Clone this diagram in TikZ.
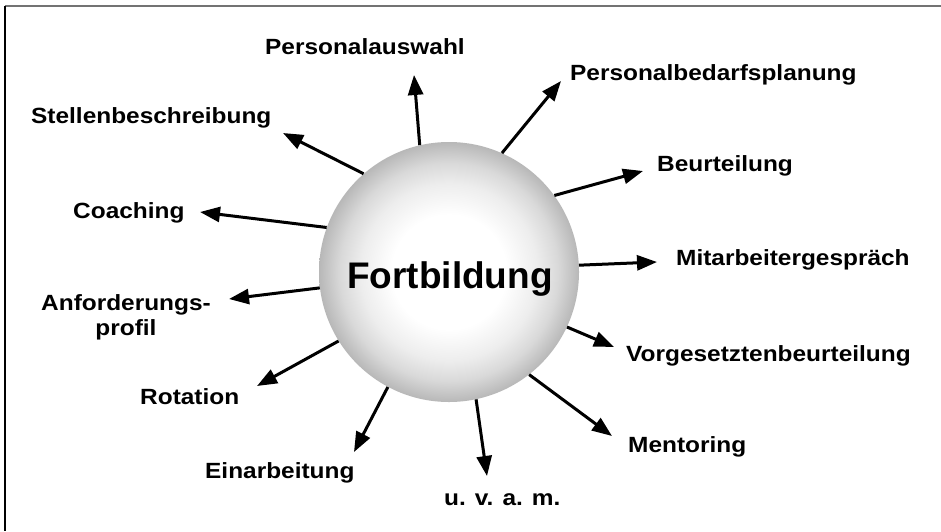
\documentclass[tikz,border=0pt]{standalone}
\usepackage{fontspec}
\setmainfont{Liberation Sans}
\newfontfamily\lblfont{Liberation Sans}[FakeStretch=1.11]
\usetikzlibrary{arrows.meta}

\pgfdeclareradialshading{ballshade}{\pgfpoint{0bp}{0bp}}{%
  color(0bp)=(white); color(11bp)=(white); color(17bp)=(black!7);
  color(21bp)=(black!15); color(25bp)=(black!28); color(50bp)=(black!28)}

\tikzset{
  lbl/.style={anchor=base west, inner sep=0pt, font=\lblfont\bfseries\fontsize{22}{25}\selectfont},
  arr/.style={line width=3pt, -{Triangle[length=20pt,width=15pt]}},
}

\begin{document}
\begin{tikzpicture}[x=1pt, y=-1pt]
            \useasboundingbox (0, 0) rectangle (941, 531);
            % frame
            \draw[line width=2pt, black!55] (5, 6) -- (941, 6);
            \draw[line width=2pt] (5, 6) -- (5, 531);

            % sphere
            \node[circle, minimum size=260pt, inner sep=0pt, shading=ballshade] (fort) at (449, 272) {};
            \node[anchor=base, inner sep=0pt, font=\bfseries\fontsize{37}{40}\selectfont] (fortlbl) at (450, 288) {Fortbildung};

            % labels
            \node[lbl] (pa) at (265, 54) {Personalauswahl};
            \node[lbl] (pb) at (570, 80) {Personalbedarfsplanung};
            \node[lbl] (be) at (657, 171) {Beurteilung};
            \node[lbl] (mg) at (676, 265) {Mitarbeitergespräch};
            \node[lbl] (vb) at (626, 361) {Vorgesetztenbeurteilung};
            \node[lbl] (me) at (628, 452) {Mentoring};
            \node[lbl] (uv) at (444, 505) {u. v. a. m.};
            \node[lbl] (ei) at (205, 478) {Einarbeitung};
            \node[lbl] (ro) at (140, 404) {Rotation};
            \node[lbl, anchor=north, align=center] (an) at (126, 294) {Anforderungs-\\profil};
            \node[lbl] (co) at (73, 218) {Coaching};
            \node[lbl] (sb) at (31, 123) {Stellenbeschreibung};

            % arrow tips
            \coordinate (tpa) at (414, 75);
            \coordinate (tpb) at (561, 81);
            \coordinate (tbe) at (643, 171);
            \coordinate (tmg) at (657, 262);
            \coordinate (tvb) at (614, 347);
            \coordinate (tme) at (612, 436);
            \coordinate (tuv) at (487, 476);
            \coordinate (tei) at (354, 452);
            \coordinate (tro) at (257, 386);
            \coordinate (tan) at (229, 299);
            \coordinate (tco) at (200, 212);
            \coordinate (tsb) at (283, 133);

            \draw[arr] (fort.103) -- (tpa);
            \draw[arr] (fort.66) -- (tpb);
            \draw[arr] (fort.36) -- (tbe);
            \draw[arr] (fort.3) -- (tmg);
            \draw[arr] (fort.-25) -- (tvb);
            \draw[arr] (fort.-52) -- (tme);
            \draw[arr] (fort.-78) -- (tuv);
            \draw[arr] (fort.-118) -- (tei);
            \draw[arr] (fort.212) -- (tro);
            \draw[arr] (fort.187) -- (tan);
            \draw[arr] (fort.160) -- (tco);
            \draw[arr] (fort.131) -- (tsb);
\end{tikzpicture}
\end{document}
